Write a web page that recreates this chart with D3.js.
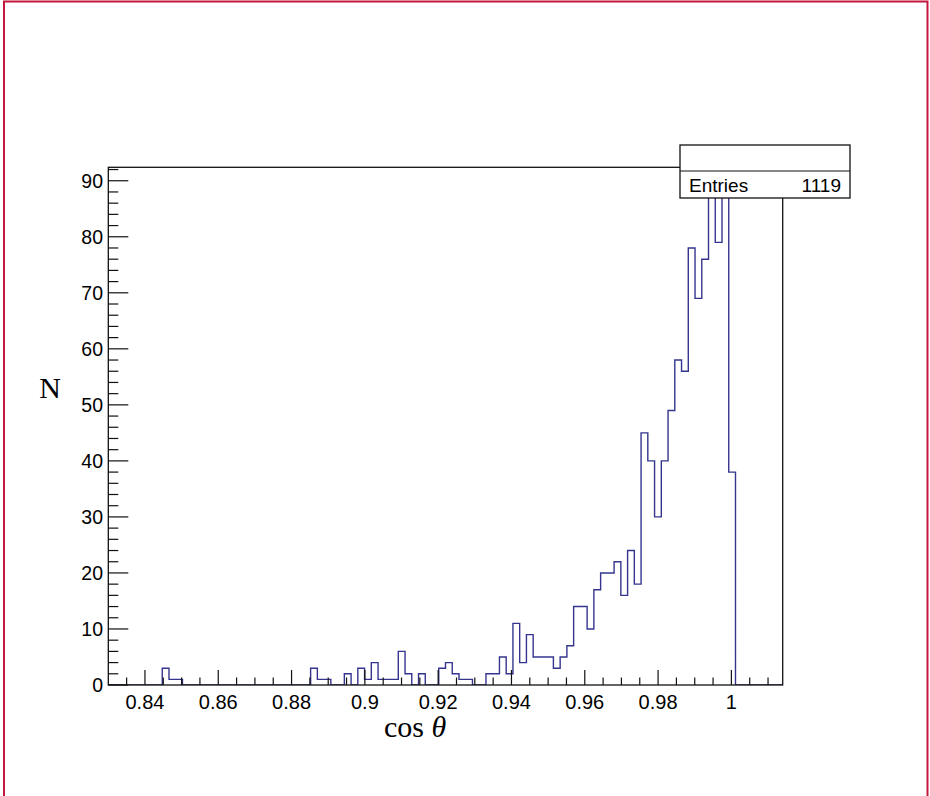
<!DOCTYPE html>
<html>
<head>
<meta charset="utf-8">
<script src="https://cdn.jsdelivr.net/npm/d3@7"></script>
<style>
  body { margin: 0; background: #ffffff; }
  svg { display: block; }
</style>
</head>
<body>
<div id="chart"></div>
<script>
// histogram settings (ROOT style, 100 bins)
var xMin = 0.83, xMax = 1.014, nBins = 100;

// counts per bin (bins 89 and 91 sit under the stats box)
var counts = [
  0, 0, 0, 0, 0, 0, 0, 0, 3, 1,
  1, 0, 0, 0, 0, 0, 0, 0, 0, 0,
  0, 0, 0, 0, 0, 0, 0, 0, 0, 0,
  3, 1, 1, 0, 0, 2, 0, 3, 1, 4,
  1, 1, 1, 6, 2, 0, 2, 0, 0, 3,
  4, 2, 1, 1, 0, 0, 2, 2, 5, 2,
  11, 4, 9, 5, 5, 5, 3, 5, 7, 14,
  14, 10, 17, 20, 20, 22, 16, 24, 18, 45,
  40, 30, 40, 49, 58, 56, 78, 69, 76, 88,
  79, 88, 38, 0, 0, 0, 0, 0, 0, 0
];

var xTickValues = [0.84, 0.86, 0.88, 0.9, 0.92, 0.94, 0.96, 0.98, 1];
var xTickLabels = ["0.84", "0.86", "0.88", "0.9", "0.92", "0.94", "0.96", "0.98", "1"];
var yTickValues = [0, 10, 20, 30, 40, 50, 60, 70, 80, 90];
var statsLabels = ["Entries"];
var statsValues = ["1119"];

var width = 930, height = 796;
var frame = {left: 108.3, right: 782.7, top: 167.3, bottom: 685};

var svg = d3.select("#chart")
    .append("svg")
    .attr("width", width)
    .attr("height", height);

// red page border
svg.append("path")
    .attr("d", "M4,796 L4,1.5 L927.5,1.5 L927.5,796")
    .style("fill", "none")
    .style("stroke", "#c4173d")
    .style("stroke-width", 2);

var binWidth = (xMax - xMin) / nBins;
var yMax = d3.max(counts) * 1.05;

var x = d3.scaleLinear().domain([xMin, xMax]).range([frame.left, frame.right]);
var y = d3.scaleLinear().domain([0, yMax]).range([frame.bottom, frame.top]);

svg.append("clipPath").attr("id", "frameClip")
  .append("rect")
    .attr("x", frame.left)
    .attr("y", frame.top)
    .attr("width", frame.right - frame.left)
    .attr("height", frame.bottom - frame.top);

// histogram outline
var pts = [[xMin, 0]];
counts.forEach(function(c, i){
    pts.push([xMin + i * binWidth, c]);
    pts.push([xMin + (i + 1) * binWidth, c]);
});
pts.push([xMax, 0]);

var line = d3.line()
    .x(function(d){ return x(d[0]); })
    .y(function(d){ return y(d[1]); });

svg.append("path")
    .datum(pts)
    .attr("clip-path", "url(#frameClip)")
    .attr("d", line)
    .style("fill", "none")
    .style("stroke", "#35358f")
    .style("stroke-width", 1.4);

// frame
svg.append("rect")
    .attr("x", frame.left)
    .attr("y", frame.top)
    .attr("width", frame.right - frame.left)
    .attr("height", frame.bottom - frame.top)
    .style("fill", "none")
    .style("stroke", "#111")
    .style("stroke-width", 1.3);

// x ticks, drawn up from the bottom of the frame
var xMinor = d3.range(0, 37).map(function(i){ return 0.835 + i * 0.005; })
    .filter(function(v){ return v <= xMax; });
var xAxis = svg.append("g").attr("class", "x-axis");
xAxis.selectAll("line.minor")
    .data(xMinor)
    .enter()
    .append("line")
      .attr("x1", function(d){ return x(d); })
      .attr("x2", function(d){ return x(d); })
      .attr("y1", frame.bottom)
      .attr("y2", function(d){
          var major = xTickValues.some(function(t){ return Math.abs(t - d) < 1e-6; });
          return frame.bottom - (major ? 15 : 7.5);
      })
      .style("stroke", "#111")
      .style("stroke-width", 1.2);

xAxis.selectAll("text")
    .data(xTickValues)
    .enter()
    .append("text")
      .attr("x", function(d){ return x(d); })
      .attr("y", 709)
      .attr("text-anchor", "middle")
      .style("font-family", "'Liberation Sans', Arial, sans-serif")
      .style("font-size", "20px")
      .text(function(d, i){ return xTickLabels[i]; });

// y ticks, drawn right from the left side of the frame
var yMinor = d3.range(0, 47).map(function(i){ return i * 2; })
    .filter(function(v){ return v <= yMax; });
var yAxis = svg.append("g").attr("class", "y-axis");
yAxis.selectAll("line")
    .data(yMinor)
    .enter()
    .append("line")
      .attr("x1", frame.left)
      .attr("x2", function(d){ return frame.left + (d % 10 === 0 ? 20 : 10); })
      .attr("y1", function(d){ return y(d); })
      .attr("y2", function(d){ return y(d); })
      .style("stroke", "#111")
      .style("stroke-width", 1.2);

yAxis.selectAll("text")
    .data(yTickValues)
    .enter()
    .append("text")
      .attr("x", 103)
      .attr("y", function(d){ return y(d); })
      .attr("dy", "0.36em")
      .attr("text-anchor", "end")
      .style("font-family", "'Liberation Sans', Arial, sans-serif")
      .style("font-size", "19.5px")
      .text(function(d){ return d; });

// axis titles
svg.append("text")
    .attr("x", 50)
    .attr("y", 398)
    .attr("text-anchor", "middle")
    .style("font-family", "'Liberation Serif', 'DejaVu Serif', serif")
    .style("font-size", "30px")
    .text("N");

var xt = svg.append("text")
    .attr("x", 415)
    .attr("y", 737)
    .attr("text-anchor", "middle")
    .style("font-family", "'Liberation Serif', 'DejaVu Serif', serif")
    .style("font-size", "30px");
xt.append("tspan").text("cos ");
xt.append("tspan").style("font-style", "italic").text("θ");

// stats box
var box = {x: 680, y: 145, w: 170, h: 53, split: 171};
svg.append("rect")
    .attr("x", box.x)
    .attr("y", box.y)
    .attr("width", box.w)
    .attr("height", box.h)
    .style("fill", "#fff")
    .style("stroke", "#111")
    .style("stroke-width", 1.3);
svg.append("line")
    .attr("x1", box.x).attr("x2", box.x + box.w)
    .attr("y1", box.split).attr("y2", box.split)
    .style("stroke", "#111")
    .style("stroke-width", 1.2);

svg.selectAll("text.stat-label")
    .data(statsLabels)
    .enter()
    .append("text")
      .attr("class", "stat-label")
      .attr("x", box.x + 9)
      .attr("y", 192)
      .style("font-family", "'Liberation Sans', Arial, sans-serif")
      .style("font-size", "19px")
      .text(function(d){ return d; });
svg.selectAll("text.stat-value")
    .data(statsValues)
    .enter()
    .append("text")
      .attr("class", "stat-value")
      .attr("x", box.x + box.w - 9)
      .attr("y", 192)
      .attr("text-anchor", "end")
      .style("font-family", "'Liberation Sans', Arial, sans-serif")
      .style("font-size", "19px")
      .text(function(d){ return d; });
</script>
</body>
</html>
